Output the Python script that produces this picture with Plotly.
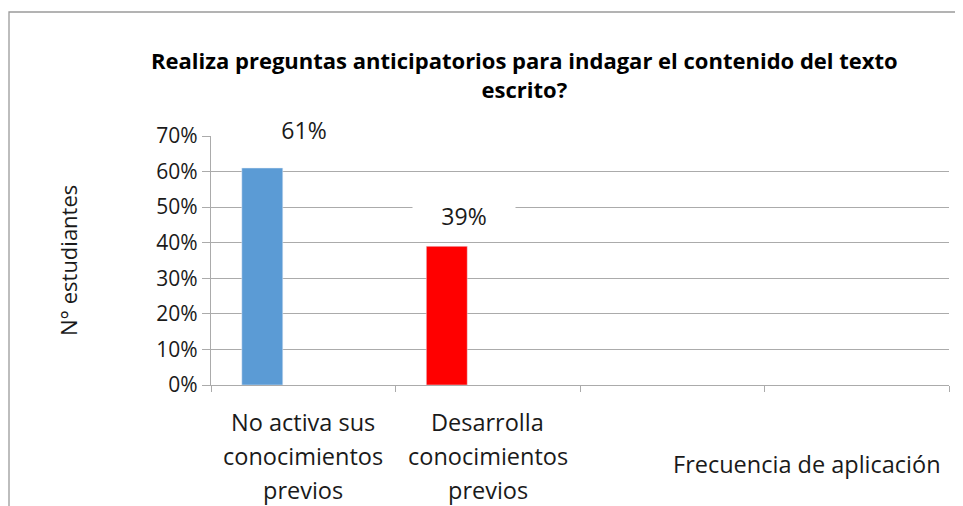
import plotly.graph_objects as go

# ── Datos ─────────────────────────────────────────────
CATEGORIAS = ['No activa sus conocimientos previos',
              'Desarrolla conocimientos previos', '', ' ']
ETIQUETAS = [['No activa sus', 'conocimientos', 'previos'],
             ['Desarrolla', 'conocimientos', 'previos']]
VALORES = [61, 39, None, None]
COLORES = ['#5b9bd5', '#ff0000', '#5b9bd5', '#5b9bd5']
Y_TICKS = [0, 10, 20, 30, 40, 50, 60, 70]

TITULO = 'Realiza preguntas anticipatorios para indagar el contenido del texto<br>escrito?'
TITULO_Y = 'N° estudiantes'
TITULO_X = 'Frecuencia de aplicación'

FONT = '"Open Sans", Lato, sans-serif'
GRIS = '#ababab'
TXT = '#1a1a1a'

# la página tiene 8px de margen en el body: todo se desplaza 8px
OFF = 8
W, H = 963 - OFF, 506 - OFF
L, R, T, B = 211, 949, 136, 385   # área de trazado en px (referencia)


def px_x(x):
    return (x - L) / (R - L)


def px_y(y):
    return (B - y) / (B - T)


fig = go.Figure(go.Bar(
    x=CATEGORIAS, y=VALORES, marker_color=COLORES,
    width=0.222, offset=-0.333,
    hoverinfo='skip',
))

annotations = []
# etiquetas de datos (desplazadas como en el original)
shifts = [(1, 38), (-24, 30)]
for i, (v, (dx, dy)) in enumerate(zip(VALORES, shifts)):
    annotations.append(dict(
        x=CATEGORIAS[i], y=v, xref='x', yref='y', text=f'{v}%',
        showarrow=False, xshift=dx, yshift=dy, bgcolor='white',
        xanchor='center', yanchor='middle',
        width=100, height=24, font=dict(size=23, color=TXT),
    ))

# etiquetas de categorías, una línea por anotación
for i, lineas in enumerate(ETIQUETAS):
    for j, txt in enumerate(lineas):
        annotations.append(dict(
            x=CATEGORIAS[i], y=px_y(422 + 34 * j), xref='x', yref='paper',
            text=txt, showarrow=False, xanchor='center', yanchor='middle',
            font=dict(size=23.5, color=TXT),
        ))

annotations.append(dict(
    x=px_x(807), y=px_y(464), xref='paper', yref='paper', text=TITULO_X,
    showarrow=False, xanchor='center', yanchor='middle',
    font=dict(size=23.5, color=TXT),
))
annotations.append(dict(
    x=px_x(68), y=px_y(261), xref='paper', yref='paper', text=TITULO_Y,
    textangle=-90, showarrow=False, xanchor='center', yanchor='middle',
    font=dict(size=22, color=TXT),
))
annotations.append(dict(
    x=px_x(524), y=px_y(74), xref='paper', yref='paper', text=f'<b>{TITULO}</b>',
    showarrow=False, xanchor='center', yanchor='middle',
    font=dict(size=22, color='#000'),
))

fig.update_layout(
    width=W, height=H,
    margin=dict(l=L - OFF, r=W - (R - OFF), t=T - OFF, b=H - (B - OFF)),
    paper_bgcolor='white', plot_bgcolor='white',
    font=dict(family=FONT, color=TXT),
    showlegend=False,
    annotations=annotations,
    xaxis=dict(
        type='category', range=[-0.5, 3.5], showticklabels=False,
        tickson='boundaries', ticks='outside', ticklen=6, tickcolor=GRIS,
        showline=True, linecolor=GRIS, linewidth=1.3, showgrid=False,
        fixedrange=True,
    ),
    yaxis=dict(
        range=[0, 70], tickvals=Y_TICKS, ticktext=[f'{t}%' for t in Y_TICKS],
        ticks='outside', ticklen=8, tickcolor=GRIS,
        showline=True, linecolor=GRIS, linewidth=1.3,
        showgrid=True, gridcolor=GRIS, gridwidth=1.3, zeroline=False,
        tickfont=dict(size=21, color=TXT), fixedrange=True,
    ),
    shapes=[dict(
        type='rect', xref='paper', yref='paper',
        x0=px_x(OFF + 1), x1=px_x(990), y0=px_y(530), y1=px_y(12),
        line=dict(color='#9a9a9a', width=1.3), layer='below',
    )],
)

fig.write_html('out.html')
